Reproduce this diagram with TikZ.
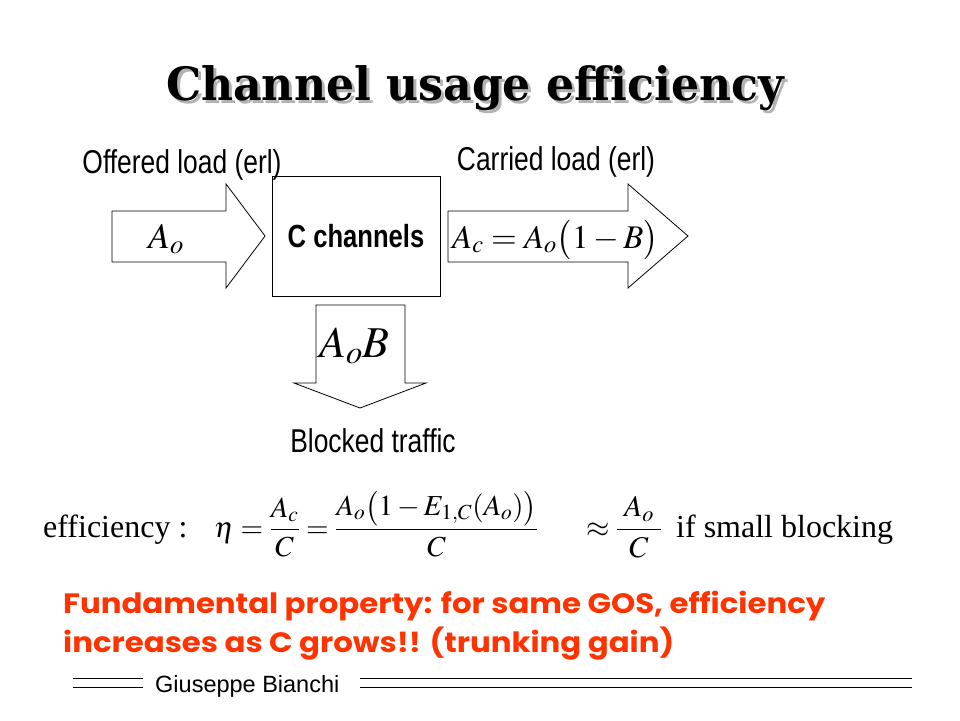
\documentclass[tikz,border=0pt]{standalone}
\usepackage{mathptmx}
\usepackage{amsmath}
\usepackage{fontspec}
\setmainfont{Liberation Serif}
\setsansfont{Liberation Sans}
\newfontfamily\narrowsf[FakeStretch=0.8]{Liberation Sans}
\newfontfamily\titlefont[FakeStretch=0.96]{DejaVu Serif}
\newfontfamily\notefont[FakeStretch=1.1]{Poppins}
\usepackage{xcolor}
\usepackage{tikz}
\usetikzlibrary{positioning, calc}
\definecolor{notered}{RGB}{255,51,0}
\tikzstyle{blockarrow} = [draw=black, fill=white, line width=0.8pt, line join=miter]
\tikzstyle{loadlabel} = [anchor=base, inner sep=0pt, font=\narrowsf\fontsize{33}{36}\selectfont]
\tikzstyle{eq} = [anchor=base west, inner sep=0pt]

\begin{document}
\begin{tikzpicture}[x=1pt, y=-1pt]

\useasboundingbox (0, 0) rectangle (960, 720);
\fill [white] (0, 0) rectangle (960, 720);

% Title with its shadow
\node (titleshadow) [anchor=base, inner sep=0pt, text=black!30, font=\titlefont\bfseries\fontsize{46}{50}\selectfont] at (478, 103) {Channel usage efficiency};
\node (title) [anchor=base, inner sep=0pt, font=\titlefont\bfseries\fontsize{46}{50}\selectfont] at (475, 100) {Channel usage efficiency};

% Block arrows
\draw [blockarrow] (112, 211) -- (226, 211) -- (226, 184) -- (265, 236) -- (226, 288) -- (226, 262) -- (112, 262) -- cycle;
\draw [blockarrow] (448, 211) -- (628, 211) -- (628, 184) -- (688, 236) -- (628, 288) -- (628, 262) -- (448, 262) -- cycle;
\draw [blockarrow] (316, 305) -- (405, 305) -- (405, 383) -- (426, 383) -- (360, 408) -- (294, 383) -- (316, 383) -- cycle;

% Channels
\node (channels) [draw, line width=0.8pt, minimum width=168, minimum height=120, font=\narrowsf\bfseries\fontsize{32}{36}\selectfont] at (356, 236.5) {C channels};

\node (offered) [loadlabel] at (182, 173) {Offered load (erl)};
\node (carried) [loadlabel] at (556, 170) {Carried load (erl)};
\node (blocked) [loadlabel] at (373, 452) {Blocked traffic};

\node (offeredeq) [eq, font=\fontsize{36}{40}\selectfont] at (148, 248) {$A_o$};
\node (carriedeq) [eq, font=\fontsize{33}{36}\selectfont] at (452, 248) {$A_c = A_o\bigl(1-B\bigr)$};
\node (blockedeq) [eq, font=\fontsize{44}{48}\selectfont] at (319, 357) {$A_oB$};

% Efficiency
\node (efflabel) [eq, font=\fontsize{32}{34}\selectfont] at (43, 537) {efficiency :};
\node (effeq) [eq, font=\fontsize{29}{34}\selectfont] at (214, 537) {$\eta = \dfrac{A_c}{C} = \dfrac{A_o\bigl(1-E_{1,C}(A_o)\bigr)}{C}$};
\node (effapprox) [eq, font=\fontsize{30}{34}\selectfont] at (586, 537) {$\approx \dfrac{\;A_o\;}{C}$};
\node (effsmall) [eq, font=\fontsize{32}{34}\selectfont] at (676, 537) {if small blocking};

\node (note1) [eq, text=notered, font=\notefont\bfseries\fontsize{28}{32}\selectfont] at (63, 613) {Fundamental property: for same GOS, efficiency};
\node (note2) [eq, text=notered, font=\notefont\bfseries\fontsize{28}{32}\selectfont] at (63, 652) {increases as C grows!! (trunking gain)};

% Footer
\node (author) [eq, font=\sffamily\fontsize{23.5}{26}\selectfont] at (155, 692) {Giuseppe Bianchi};
\draw [line width=0.8pt] (73, 678) -- (143, 678);
\draw [line width=0.8pt] (73, 687) -- (143, 687);
\draw [line width=0.8pt] (360, 678) -- (912, 678);
\draw [line width=0.8pt] (360, 687) -- (912, 687);

\end{tikzpicture}
\end{document}
